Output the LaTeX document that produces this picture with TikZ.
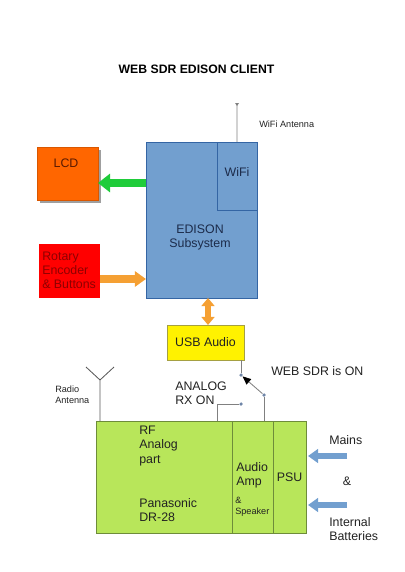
\documentclass[tikz,border=0pt]{standalone}
\usepackage{fontspec}
\setmainfont{Liberation Sans}
\usetikzlibrary{arrows.meta,shadows}
\definecolor{edisonblue}{HTML}{729FCF}
\definecolor{edisonline}{HTML}{3465A4}
\definecolor{lcdorange}{HTML}{FF6600}
\definecolor{fatorange}{HTML}{F5A033}
\definecolor{fatgreen}{HTML}{1FCC3A}
\definecolor{radiogreen}{HTML}{B8E65A}
\definecolor{radioline}{HTML}{6E8C3A}
\definecolor{wiregray}{HTML}{808080}
\definecolor{dotblue}{HTML}{6F86A8}
\definecolor{navytext}{HTML}{1C2B4A}
\definecolor{redtext}{HTML}{8E0000}
\definecolor{browntext}{HTML}{5A1A00}
\definecolor{darktext}{HTML}{222222}

\begin{document}
\begin{tikzpicture}[x=0.025cm, y=-0.025cm,
  block/.style={rectangle, inner sep=0pt, outer sep=0pt, line width=0.5pt},
  txt/.style={font=\fontsize{8.8}{10}\selectfont, text=darktext, inner sep=0pt, align=left},
  small/.style={font=\fontsize{6.5}{7.6}\selectfont, text=darktext, inner sep=0pt, align=left},
  fatarrow/.style={line width=0.2cm, -{Triangle[width=0.45cm, length=0.3cm]}},
  bluearrow/.style={edisonblue, line width=0.16cm, -{Triangle[width=0.34cm, length=0.25cm]}},
  wire/.style={draw=wiregray, line width=0.6pt},
  contact/.style={circle, fill=dotblue, inner sep=0pt, minimum size=2.5pt}]
  \useasboundingbox (0,0) rectangle (404,572);

  \node[txt, text=black, font=\bfseries\fontsize{8.7}{10}\selectfont] (title) at (196.5,69) {WEB SDR EDISON CLIENT};

  % edison and wifi
  \node[block, draw=edisonline, fill=edisonblue, minimum width=2.775cm, minimum height=3.9cm] (edison) at (201.5,220) {};
  \node[block, draw=edisonline, minimum width=1cm, minimum height=1.7cm, anchor=north east] (wifi) at (edison.north east) {};
  \node[txt, text=navytext] (wifilabel) at (237,172) {WiFi};
  \node[txt, text=navytext, align=center] (edisonlabel) at (200,237) {EDISON\\Subsystem};
  \coordinate (wifitop) at (237,103);
  \draw[wire] (wifi.north) -- (wifitop);
  \fill[wiregray] (wifitop) ++(-2,0) -- ++(4,0) -- ++(-2,3) -- cycle;
  \node[small, anchor=west] (wifiant) at (259,124) {WiFi Antenna};

  % lcd and rotary
  \node[block, fill=lcdorange, draw=lcdorange!85!black, minimum width=1.525cm, minimum height=1.325cm,
        drop shadow={shadow xshift=0.08cm, shadow yshift=-0.08cm, opacity=1, fill=gray!75}] (lcd) at (67.5,173.5) {};
  \node[txt, text=browntext] (lcdlabel) at (66,163) {LCD};
  \node[block, fill=red, minimum width=1.525cm, minimum height=1.35cm] (rotary) at (69.5,271) {};
  \node[txt, text=redtext, anchor=west] (rotarylabel) at (42,270) {Rotary\\Encoder\\\& Buttons};

  \draw[fatarrow, fatgreen] (edison.west |- 0,183) -- (lcd.east |- 0,183);
  \draw[fatorange, line width=0.19cm, -{Triangle[width=0.38cm, length=0.28cm]}] (rotary.east |- 0,279) -- (edison.west |- 0,279);

  % usb audio
  \node[block, fill=yellow, draw=yellow!60!black, minimum width=1.925cm, minimum height=0.875cm,
        font=\fontsize{8.8}{10}\selectfont, text=darktext] (usb) at (205.5,342.5) {USB Audio};
  \draw[fatorange, line width=0.15cm, {Triangle[width=0.32cm, length=0.2cm]}-{Triangle[width=0.32cm, length=0.2cm]}]
    (edison.south -| 208,0) -- (usb.north -| 208,0);

  % radio
  \node[block, fill=radiogreen, draw=radioline, minimum width=3.4cm, minimum height=2.8cm] (rf) at (164,477) {};
  \node[block, fill=radiogreen, draw=radioline, minimum width=1.025cm, minimum height=2.8cm, anchor=west] (amp) at (rf.east) {};
  \node[block, fill=radiogreen, draw=radioline, minimum width=0.825cm, minimum height=2.8cm, anchor=west,
        font=\fontsize{8.8}{10}\selectfont, text=darktext] (psu) at (amp.east) {PSU};
  \node[txt, anchor=west] (rflabel) at (139,446) {RF\\Analog\\part};
  \node[txt, anchor=west] (panalabel) at (139,510) {Panasonic\\DR-28};
  \node[txt, anchor=west] (amplabel) at (236,475) {Audio\\Amp};
  \node[small, anchor=west] (spklabel) at (235,507) {\&\\Speaker};

  \coordinate (ant) at (100,380);
  \draw[wire, draw=black!65] (rf.north -| ant) -- (ant) -- ++(-14,-13) (ant) -- ++(14,-13);
  \node[small, anchor=west] (radioant) at (55,395) {Radio\\Antenna};

  % switch
  \node[contact] (webdot) at (241,375) {};
  \node[contact] (pivotdot) at (264,395) {};
  \node[contact] (analogdot) at (241,404) {};
  \draw[wire] (usb.south -| webdot) -- (webdot);
  \draw[wire] (amp.north -| pivotdot) -- (pivotdot);
  \draw[wire, -{Triangle[color=black, width=5pt, length=6pt]}] (pivotdot) -- (webdot);
  \draw[wire] (rf.north -| 217,0) |- (analogdot);
  \node[txt, anchor=west] (analoglabel) at (175,393) {ANALOG\\RX ON};
  \node[txt, anchor=west] (webonlabel) at (271,371) {WEB SDR is ON};

  % power
  \coordinate (mainsin) at (347,456);
  \coordinate (battin) at (347,505);
  \draw[bluearrow, shorten >=0.05cm] (mainsin) -- (psu.east |- mainsin);
  \draw[bluearrow, shorten >=0.05cm] (battin) -- (psu.east |- battin);
  \node[txt, anchor=west] (mains) at (329,440) {Mains};
  \node[txt] (andlabel) at (347,481) {\&};
  \node[txt, anchor=west] (batt) at (329,529) {Internal\\Batteries};
\end{tikzpicture}
\end{document}
